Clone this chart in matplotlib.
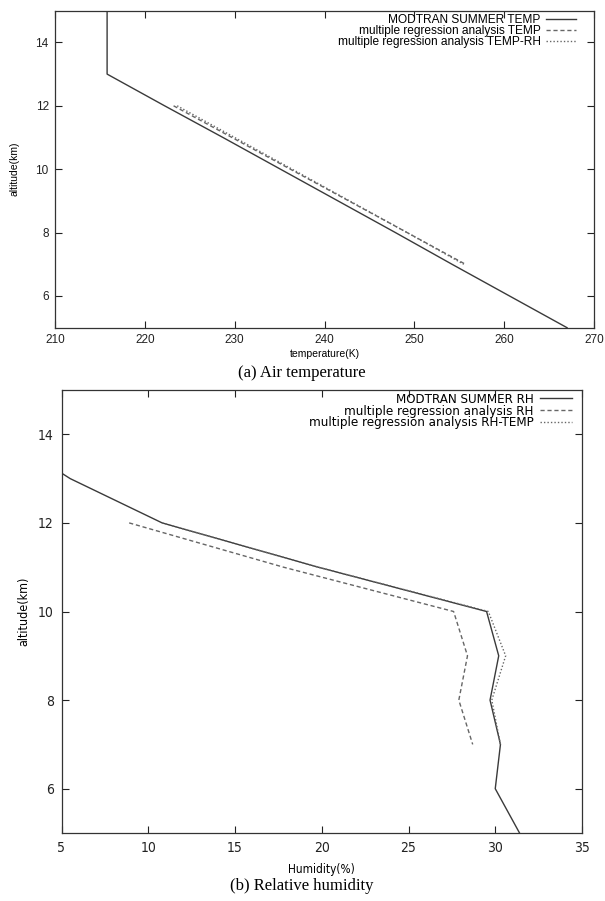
import matplotlib.pyplot as plt
import numpy as np

# --- data ---
alt_modtran = [15, 14, 13, 12, 11, 10, 9, 8, 7, 6, 5]
temp_modtran = [215.8, 215.8, 215.8, 222.2, 228.7, 235.1, 241.5, 247.9, 254.2, 260.6, 267.0]
alt_reg = [12, 11, 10, 9, 8, 7]
temp_reg = [223.2, 229.7, 236.2, 242.7, 249.2, 255.7]
temp_reg_rh = [223.6, 230.0, 236.4, 242.8, 249.2, 255.5]

rh_modtran = [1.0, 1.5, 5.5, 10.8, 19.8, 29.5, 30.2, 29.7, 30.3, 30.0, 31.4]
rh_reg = [8.9, 17.8, 27.6, 28.4, 27.9, 28.7]
rh_reg_temp = [10.8, 19.8, 29.6, 30.6, 29.8, 30.3]

W, H = 605, 901
fig = plt.figure(figsize=(W / 100, H / 100), dpi=100)
plt.rcParams['font.family'] = ['Liberation Sans', 'DejaVu Sans']
narrow = dict(family='DejaVu Sans', stretch='condensed')


def box(l, t, r, b):
    return [l / W, 1 - b / H, (r - l) / W, (b - t) / H]


solid = dict(color='#3a3a3a', lw=1.0, ls='-')
dashed = dict(color='#666666', lw=1.0, ls=(0, (3, 2)))
dotted = dict(color='#666666', lw=1.0, ls=(0, (1, 1.5)))


def style(ax, fs, pad):
    ax.tick_params(direction='in', top=True, right=True, length=5, width=0.8,
                   labelsize=fs, colors='#222222', pad=pad)
    for s in ax.spines.values():
        s.set_linewidth(0.9)
        s.set_color('#333333')


# (a) air temperature
ax1 = fig.add_axes(box(55, 10.7, 594, 327.7))
ax1.plot(temp_modtran, alt_modtran, label='MODTRAN SUMMER TEMP', **solid)
ax1.plot(temp_reg, alt_reg, label='multiple regression analysis TEMP', **dashed)
ax1.plot(temp_reg_rh, alt_reg, label='multiple regression analysis TEMP-RH', **dotted)
ax1.set_xlim(210, 270)
ax1.set_ylim(5, 15)
ax1.set_xticks(np.arange(210, 271, 10))
ax1.set_yticks([6, 8, 10, 12, 14])
style(ax1, 8.5, 4.5)
ax1.set_xlabel('temperature(K)', fontsize=7.5)
ax1.set_ylabel('altitude(km)', fontsize=7.5)
ax1.xaxis.set_label_coords(0.5, -0.068)
ax1.yaxis.set_label_coords(-0.066, 0.5)
ax1.legend(loc='upper right', frameon=False, markerfirst=False, fontsize=8.6,
           handlelength=2.55, handletextpad=0.42, labelspacing=-0.08,
           borderaxespad=0.2, bbox_to_anchor=(0.98, 1.012))

# (b) relative humidity
ax2 = fig.add_axes(box(61.5, 390, 582, 833))
ax2.plot(rh_modtran, alt_modtran, label='MODTRAN SUMMER RH', **solid)
ax2.plot(rh_reg, alt_reg, label='multiple regression analysis RH', **dashed)
ax2.plot(rh_reg_temp, alt_reg, label='multiple regression analysis RH-TEMP', **dotted)
ax2.set_xlim(5, 35)
ax2.set_ylim(5, 15)
ax2.set_xticks(np.arange(5, 36, 5))
ax2.set_yticks([6, 8, 10, 12, 14])
style(ax2, 10, 5.5)
for t in ax2.get_xticklabels() + ax2.get_yticklabels():
    t.set(**narrow)
ax2.set_xlabel('Humidity(%)', fontsize=8.5, **narrow)
ax2.set_ylabel('altitude(km)', fontsize=9, **narrow)
ax2.xaxis.set_label_coords(0.5, -0.068)
ax2.yaxis.set_label_coords(-0.06, 0.5)
ax2.legend(loc='upper right', frameon=False, markerfirst=False,
           prop=dict(size=9.5, **narrow),
           handlelength=2.4, handletextpad=0.5, labelspacing=-0.1,
           borderaxespad=0.0, bbox_to_anchor=(0.99, 1.005))

fig.text(302 / W, 1 - 373 / H, '(a) Air temperature', ha='center', va='center',
         fontsize=12, family='Liberation Serif')
fig.text(302 / W, 1 - 886 / H, '(b) Relative humidity', ha='center', va='center',
         fontsize=12, family='Liberation Serif')

fig.savefig('out.png', dpi=100)
